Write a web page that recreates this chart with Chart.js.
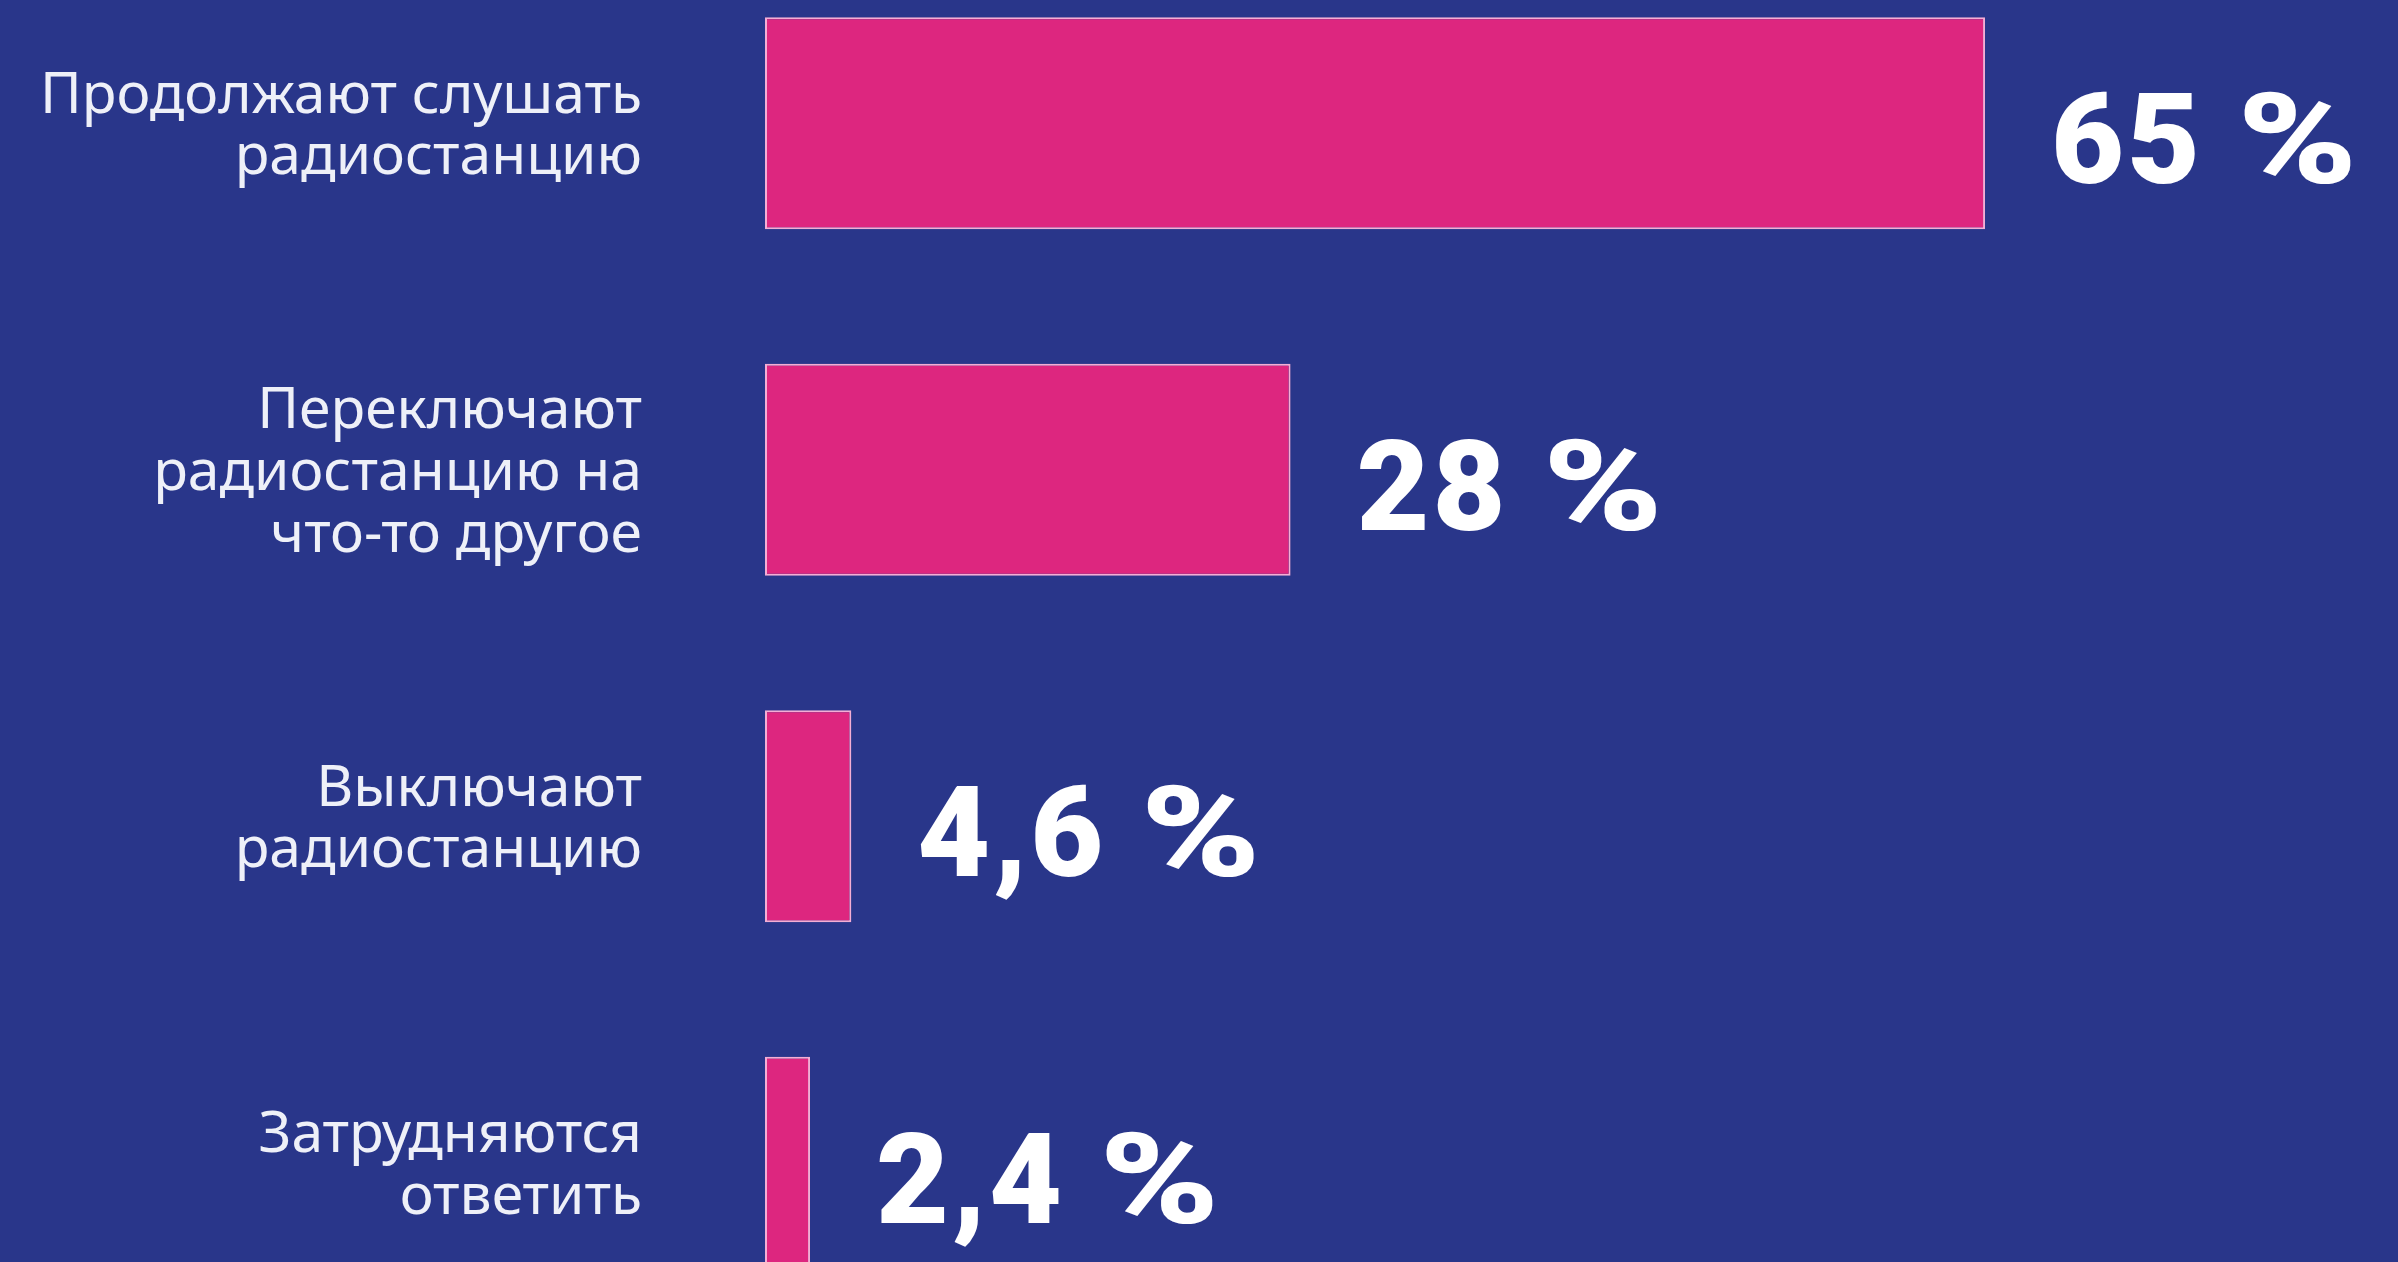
<!DOCTYPE html>
<html>
<head>
<meta charset="utf-8">
<script src="https://cdn.jsdelivr.net/npm/chart.js@4/dist/chart.umd.min.js"></script>
<style>
  html, body { margin: 0; padding: 0; background: #29368a; overflow: hidden; width: 2398px; height: 1262px; }
  #c { position: absolute; left: 0; top: -50px; display: block; }
</style>
</head>
<body>
<canvas id="c" width="2398" height="1386" style="width:2398px;height:1386px"></canvas>
<script>
const categories = [
  ["Продолжают слушать", "радиостанцию"],
  ["Переключают", "радиостанцию на", "что-то другое"],
  ["Выключают", "радиостанцию"],
  ["Затрудняются", "ответить"]
];
const values = [65, 28, 4.6, 2.4];
const valueLabels = ["65 %", "28 %", "4,6 %", "2,4 %"];

const valueLabelPlugin = {
  id: 'valueLabels',
  afterDatasetsDraw(chart) {
    const ctx = chart.ctx;
    const meta = chart.getDatasetMeta(0);
    ctx.save();
    ctx.fillStyle = '#ffffff';
    ctx.font = '900 126px Roboto, "Noto Sans", sans-serif';
    try { ctx.letterSpacing = '3px'; } catch (e) {}
    ctx.textAlign = 'left';
    ctx.textBaseline = 'alphabetic';
    meta.data.forEach((bar, i) => {
      const txt = valueLabels[i];
      const cut = txt.lastIndexOf(' ');
      const num = txt.slice(0, cut + 1);
      const pct = txt.slice(cut + 1);
      const x0 = bar.x + 66, y0 = bar.y + 60;
      ctx.fillText(num, x0, y0);
      const w = ctx.measureText(num).width;
      ctx.save();
      ctx.translate(x0 + w, y0);
      ctx.scale(1.28, 1);
      ctx.fillText(pct, 0, 0);
      ctx.restore();
    });
    ctx.restore();
  }
};

new Chart(document.getElementById('c'), {
  type: 'bar',
  data: {
    labels: categories,
    datasets: [{
      data: values,
      backgroundColor: '#dd267f',
      borderColor: '#f4aed4',
      borderWidth: 2,
      borderSkipped: false,
      categoryPercentage: 1,
      barPercentage: 0.612
    }]
  },
  options: {
    indexAxis: 'y',
    responsive: false,
    animation: false,
    devicePixelRatio: 1,
    layout: { padding: 0 },
    plugins: { legend: { display: false }, tooltip: { enabled: false } },
    scales: {
      x: {
        display: false,
        min: 0,
        max: 87
      },
      y: {
        grid: { display: false, drawTicks: false },
        border: { display: false },
        afterFit(scale) {
          scale.width = 765;
          scale.paddingTop = 0;
          scale.paddingBottom = 0;
        },
        ticks: {
          color: '#eef0f8',
          padding: 123,
          labelOffset: 4,
          font: { family: '"Noto Sans", "Open Sans", sans-serif', size: 57, lineHeight: 1.08 }
        }
      }
    }
  },
  plugins: [valueLabelPlugin]
});
</script>
</body>
</html>
